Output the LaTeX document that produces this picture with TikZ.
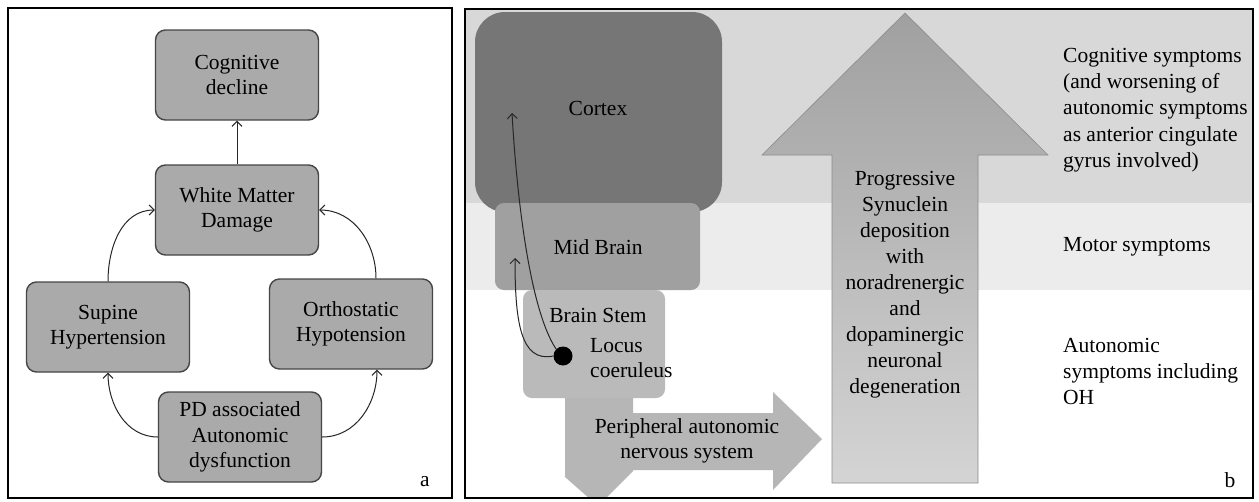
\documentclass[tikz,border=0pt]{standalone}
\usepackage{fontspec}
\setmainfont{Liberation Serif}
\usetikzlibrary{arrows.meta,shapes.misc}
\definecolor{boxfill}{RGB}{170,170,170}
\definecolor{boxline}{RGB}{70,70,70}
\definecolor{bandtop}{RGB}{216,216,216}
\definecolor{bandmid}{RGB}{236,236,236}
\definecolor{cortexc}{RGB}{118,118,118}
\definecolor{midc}{RGB}{160,160,160}
\definecolor{stemc}{RGB}{186,186,186}
\definecolor{perc}{RGB}{182,182,182}
\definecolor{bigtop}{RGB}{160,160,160}
\definecolor{bigbot}{RGB}{212,212,212}
\newcommand{\fs}{\fontsize{21.5}{25.5}\selectfont}
\tikzset{
  box/.style={rounded corners=10pt, draw=boxline, fill=boxfill, line width=1.4pt,
    minimum width=163pt, minimum height=90pt, align=center, font=\fs, inner sep=0pt},
  arr/.style={-{Straight Barb[length=5pt,width=10pt]}, line width=1pt, draw=black!85},
  lbl/.style={font=\fs, align=center, inner sep=0pt},
  lbll/.style={font=\fs, align=left, inner sep=0pt, anchor=west},
  frame/.style={draw=black, line width=2.2pt}
}
\begin{document}
\begin{tikzpicture}[x=1pt,y=1pt]
\useasboundingbox (0,0) rectangle (1259,-501);
\fill[white] (0,0) rectangle (1259,-501);
% ---------- panel a ----------
\node[box] (cog) at (237,-75) {Cognitive\\decline};
\node[box] (wmd) at (237,-210) {White Matter\\Damage};
\node[box] (sup) at (108,-327) {Supine\\Hypertension};
\node[box] (ort) at (351,-324) {Orthostatic\\Hypotension};
\node[box] (pd) at (240,-437) {PD associated\\Autonomic\\dysfunction};
\draw[arr] (wmd.north) -- (cog.south);
\draw[arr] (sup.north) to[out=90,in=180] (wmd.west);
\draw[arr] (ort.north-|376,0) to[out=90,in=0] (wmd.east);
\draw[arr] (pd.west) to[out=180,in=-90] (sup.south);
\draw[arr] (pd.east) to[out=0,in=-90] (ort.south-|377,0);
\node[lbl] (la) at (425,-482) {a};
\draw[frame] (8,-8) rectangle (452,-498);
% ---------- panel b ----------
\begin{scope}
\clip (465,-9) rectangle (1253,-498);
\fill[bandtop] (465,-9) rectangle (1253,-203);
\fill[bandmid] (465,-203) rectangle (1253,-290);
% peripheral arrow
\fill[perc] (565,-390) -- (565,-477) -- (598,-506) -- (633,-471) -- (633,-470)
  -- (773,-470) -- (773,-490) -- (822,-439) -- (773,-392) -- (773,-413)
  -- (633,-413) -- (633,-390) -- cycle;
% brain regions
\fill[cortexc, rounded corners=30pt] (475,-12) rectangle (722,-212);
\fill[midc, rounded corners=9pt] (495,-203) rectangle (700,-290);
\fill[stemc, rounded corners=9pt] (523,-290) rectangle (665,-398);
% big arrow
\shade[top color=bigtop, bottom color=bigbot, draw=black!45, line width=0.6pt]
  (905,-13) -- (1048,-155) -- (978,-155) -- (978,-483) -- (832,-483)
  -- (832,-155) -- (762,-155) -- cycle;
\end{scope}
\node[lbl] (cortex) at (598,-108) {Cortex};
\node[lbl] (mid) at (598,-247) {Mid Brain};
\node[lbl] (stem) at (598,-315) {Brain Stem};
\node[lbll] (locus) at (590,-358) {Locus\\coeruleus};
\node[lbl] (per) at (687,-441) {Peripheral autonomic\\nervous system};
\node[circle, fill=black, minimum size=19pt, inner sep=0pt] (dot) at (563,-356) {};
\coordinate (cxt) at (512,-113);
\coordinate (mbt) at (515,-258);
\draw[arr] (dot.north west) .. controls (530,-310) and (517,-200) .. (cxt);
\draw[arr] (dot.west) .. controls (520,-363) and (515,-320) .. (mbt);
\node[lbl, font=\fontsize{21.5}{26}\selectfont] (big) at (905,-285)
  {Progressive\\Synuclein\\deposition\\with\\noradrenergic\\and\\dopaminergic\\neuronal\\degeneration};
\node[lbll, font=\fontsize{21.5}{26.4}\selectfont] (cogs) at (1063,-110)
  {Cognitive symptoms\\(and worsening of\\autonomic symptoms\\as anterior cingulate\\gyrus involved)};
\node[lbll] (mot) at (1063,-247) {Motor symptoms};
\node[lbll, font=\fontsize{21.5}{26}\selectfont] (aut) at (1063,-371) {Autonomic\\symptoms including\\OH};
\node[lbl] (lb) at (1230,-480) {b};
\draw[frame] (465,-9) rectangle (1253,-498);
\end{tikzpicture}
\end{document}
